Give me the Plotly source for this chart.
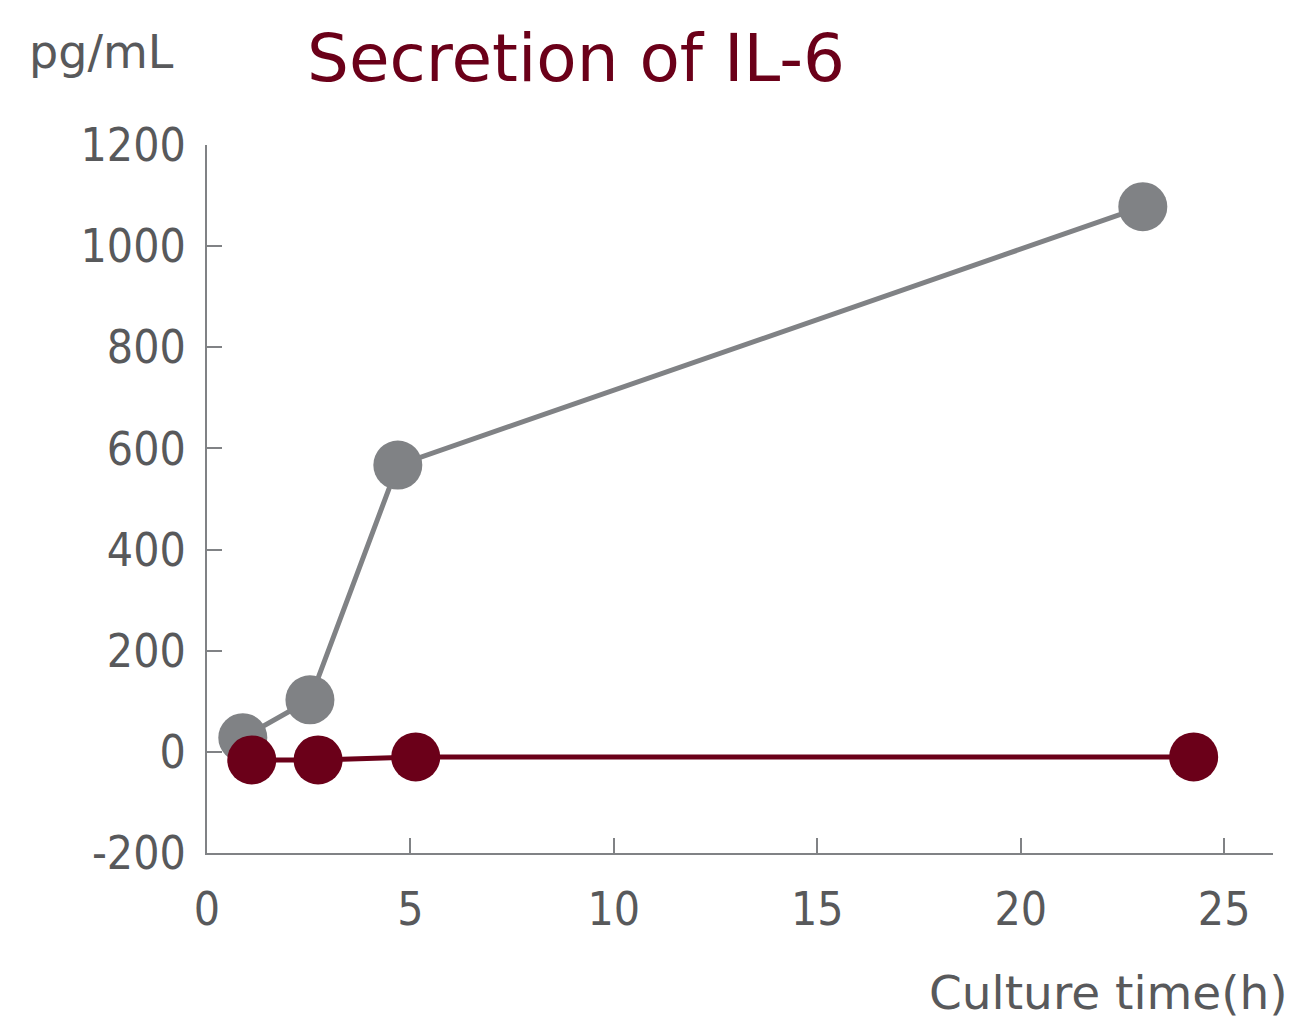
import plotly.graph_objects as go

# Data
time_gray = [0.88, 2.53, 4.69, 23.0]
il6_gray = [28, 103, 567, 1078]
time_red = [1.1, 2.73, 5.13, 24.25]
il6_red = [-16, -16, -10, -10]

x_ticks = [0, 5, 10, 15, 20, 25]
y_ticks = [-200, 0, 200, 400, 600, 800, 1000, 1200]
y_ticktext = ["-200", "0", "200", "400", "600", "800", "1000", "1200"]

GRAY = "#808285"
RED = "#6b0019"
TEXT = "#58595b"
FONT = "DejaVu Sans Condensed, Roboto, sans-serif"
WIDE = "DejaVu Sans, sans-serif"

W, H = 1291, 1019
ML, MR, MT, MB = 207, 18, 145, 166

fig = go.Figure()
fig.add_trace(go.Scatter(x=time_gray, y=il6_gray, mode="lines+markers",
                         line=dict(color=GRAY, width=5),
                         marker=dict(color=GRAY, size=49), showlegend=False))
fig.add_trace(go.Scatter(x=time_red, y=il6_red, mode="lines+markers",
                         line=dict(color=RED, width=5),
                         marker=dict(color=RED, size=49), showlegend=False))

plot_w = W - ML - MR
plot_h = H - MT - MB


def px(x, y):
    return (x - ML) / plot_w, (H - y - MB) / plot_h


annots = []
for text, xp, yp, size, color, fam, anchor in [
    ("Secretion of IL-6", 305, 58, 66, RED, WIDE, "left"),
    ("pg/mL", 27, 52, 46, TEXT, WIDE, "left"),
    ("Culture time(h)", 1290, 992, 47, TEXT, WIDE, "right"),
]:
    ax, ay = px(xp, yp)
    annots.append(dict(text=text, x=ax, y=ay, xref="paper", yref="paper",
                       showarrow=False, font=dict(size=size, color=color, family=fam),
                       xanchor=anchor, yanchor="middle"))

fig.update_layout(
    width=W, height=H,
    margin=dict(l=ML, r=MR, t=MT, b=MB, autoexpand=False),
    plot_bgcolor="white", paper_bgcolor="white",
    font=dict(family=FONT, color=TEXT, size=46),
    xaxis=dict(range=[0, 26.2], tickvals=x_ticks, ticks="inside", ticklen=15,
               tickwidth=2, tickcolor=GRAY, showline=True, linecolor=GRAY,
               linewidth=2, showgrid=False, zeroline=False, automargin=False,
               ticklabelstandoff=15, tickfont=dict(size=46, color=TEXT)),
    yaxis=dict(range=[-200, 1200], tickvals=y_ticks, ticktext=y_ticktext,
               ticks="inside", ticklen=15,
               tickwidth=2, tickcolor=GRAY, showline=True, linecolor=GRAY,
               linewidth=2, showgrid=False, zeroline=False, automargin=False,
               ticklabelstandoff=10, tickfont=dict(size=46, color=TEXT)),
    annotations=annots,
)

fig.write_html("out.html", config={"displayModeBar": False},
               post_script="document.body.style.margin='0';")
